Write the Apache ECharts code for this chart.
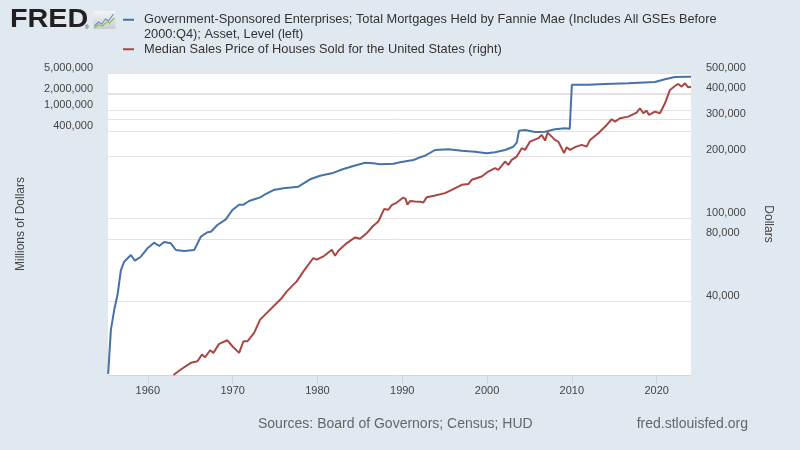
<!DOCTYPE html>
<html><head><meta charset="utf-8">
<script src="https://cdn.jsdelivr.net/npm/echarts@6/dist/echarts.min.js"></script>
<style>html,body{margin:0;padding:0;background:#e1e9f0}#c{width:800px;height:450px}</style>
</head><body><div id="c"></div>
<script>
// Government-Sponsored Enterprises; Total Mortgages Held by Fannie Mae (millions of dollars)
const fannieYears = [1955.32,1955.64,1956.03,1956.42,1956.82,1957.21,1958.0,1958.47,1959.17,1959.95,1960.74,1961.33,1961.92,1962.71,1963.30,1964.28,1965.46,1966.25,1967.03,1967.43,1968.20,1969.19,1969.97,1970.76,1971.27,1971.94,1972.92,1973.24,1973.71,1974.81,1975.98,1977.75,1979.13,1980.31,1981.69,1983.06,1984.24,1985.62,1986.59,1987.38,1988.95,1989.74,1991.31,1992.10,1992.69,1993.87,1995.44,1997.01,1998.58,1999.96,2000.94,2002.12,2003.10,2003.50,2003.77,2004.48,2005.66,2006.84,2008.01,2009.19,2009.75,2010.0,2011.94,2013.91,2016.66,2019.80,2020.98,2022.16,2023.73,2024.05];
const fannieValues = [10.5,71,168,323,957,1374,1837,1435,1706,2460,3141,2716,3236,3055,2286,2188,2286,4074,4932,5058,6776,8670,13000,16370,16370,19190,21580,22540,24940,30970,33340,35730,49320,57680,63970,77090,87900,101400,98850,94620,97300,103300,114000,128200,137400,176200,181600,171000,163700,152700,159600,176200,203200,242100,407400,419800,385500,390000,433500,451800,445000,3006000,3006000,3100000,3197000,3381000,3800000,4203000,4258000,4258000];
// Median Sales Price of Houses Sold for the United States (dollars)
const priceYears = [1963.02,1963.89,1965.07,1965.85,1966.37,1966.75,1967.34,1967.73,1968.40,1969.38,1969.97,1970.76,1971.27,1971.74,1972.53,1973.24,1973.71,1975.80,1976.39,1977.16,1977.56,1978.34,1979.52,1979.92,1980.70,1981.69,1982.08,1982.47,1983.46,1984.44,1985.03,1985.82,1986.59,1987.18,1987.86,1988.36,1988.76,1989.35,1990.13,1990.41,1990.60,1990.92,1991.51,1992.10,1992.49,1992.89,1993.87,1995.05,1995.84,1997.01,1997.79,1998.19,1999.37,2000.15,2000.94,2001.33,2002.12,2002.51,2002.91,2003.50,2004.09,2004.48,2005.07,2006.05,2006.45,2006.84,2007.15,2007.63,2008.01,2008.40,2008.80,2009.07,2009.39,2009.78,2010.37,2011.16,2011.75,2012.14,2013.12,2014.11,2014.70,2015.09,2015.68,2016.66,2017.64,2018.03,2018.42,2018.82,2019.10,2019.80,2020.39,2020.98,2021.57,2022.16,2022.55,2022.95,2023.34,2023.73,2024.05];
const priceValues = [17800,18910,20360,20720,22300,21650,23390,22730,25100,26120,24450,22730,25830,25830,28330,32810,34290,41690,44840,48280,50060,55890,64790,63590,65950,71000,66470,70220,76440,81330,80170,85370,92520,96990,111200,110400,116300,119600,126400,124200,116700,121500,120800,120600,119600,126900,129200,132700,137600,145400,146600,153700,159400,168400,174800,171500,188000,181300,191600,198700,217900,213900,234400,243400,252400,237000,258800,247600,238800,234400,217900,206300,220400,213900,220400,226100,221800,238800,257100,281800,300100,292300,303400,308800,322800,338800,320600,329900,314700,326300,320600,358000,414600,433200,442900,429900,446400,427000,429900];

const xTickYears = [1960,1970,1980,1990,2000,2010,2020];
const leftTicks = [400000,1000000,2000000,5000000];
const rightTicks = [40000,80000,100000,200000,300000,400000,500000];
const seriesNames = [
  'Government-Sponsored Enterprises; Total Mortgages Held by Fannie Mae (Includes All GSEs Before 2000:Q4); Asset, Level (left)',
  'Median Sales Price of Houses Sold for the United States (right)'
];
const legendLines = [
  ['Government-Sponsored Enterprises; Total Mortgages Held by Fannie Mae (Includes All GSEs Before', '2000:Q4); Asset, Level (left)'],
  ['Median Sales Price of Houses Sold for the United States (right)']
];
const seriesColors = ['#4572a7', '#aa4643'];
const axisNames = ['Millions of Dollars', 'Dollars'];
const sourceText = 'Sources: Board of Governors; Census; HUD';
const siteText = 'fred.stlouisfed.org';

const fmt = v => Number(v).toLocaleString('en-US');
const FONT = 'Liberation Sans, Arial, sans-serif';

const chart = echarts.init(document.getElementById('c'), null, {renderer: 'canvas'});
const legendText = {color: '#333', fontSize: 12.8, fontFamily: FONT, lineHeight: 14.5, padding: [0, 0, 0, 5]};
chart.setOption({
  backgroundColor: '#e1e9f0',
  animation: false,
  textStyle: {fontFamily: FONT},
  grid: {left: 108, right: 109, top: 73, bottom: 75, show: true, backgroundColor: '#ffffff', borderWidth: 0, containLabel: false},
  legend: [
    {data: [seriesNames[0]], left: 123, top: -2, orient: 'vertical', icon: 'rect', itemWidth: 11, itemHeight: 2, padding: 0,
     formatter: () => '\n' + legendLines[0].join('\n'), textStyle: legendText, selectedMode: false},
    {data: [seriesNames[1]], left: 123, top: 42, orient: 'vertical', icon: 'rect', itemWidth: 11, itemHeight: 2, padding: 0,
     formatter: () => legendLines[1].join('\n'), textStyle: legendText, selectedMode: false}
  ],
  xAxis: {
    type: 'value', min: 1955.3, max: 2024.05,
    axisLine: {show: true, lineStyle: {color: '#cfd6dd', width: 1}},
    axisTick: {show: true, customValues: xTickYears, length: 9, lineStyle: {color: '#cfd6dd'}},
    axisLabel: {customValues: xTickYears, formatter: v => String(v), color: '#444', fontSize: 11, margin: 10},
    splitLine: {show: false}
  },
  yAxis: [
    {
      type: 'log', logBase: 10, min: 10, max: 5000000, position: 'left',
      name: axisNames[0], nameLocation: 'middle', nameGap: 81, nameTextStyle: {color: '#444', fontSize: 12},
      axisLine: {show: false}, axisTick: {show: false, customValues: leftTicks},
      axisLabel: {customValues: leftTicks, formatter: fmt, color: '#444', fontSize: 11, margin: 15, verticalAlign: 'bottom'},
      splitLine: {show: true, lineStyle: {color: '#e2e2e2', width: 1}}
    },
    {
      type: 'log', logBase: 10, min: 17800, max: 500000, position: 'right',
      name: axisNames[1], nameLocation: 'middle', nameGap: 71, nameRotate: -90, nameTextStyle: {color: '#444', fontSize: 12},
      axisLine: {show: false}, axisTick: {show: false, customValues: rightTicks},
      axisLabel: {customValues: rightTicks, formatter: fmt, color: '#444', fontSize: 11, margin: 15, verticalAlign: 'bottom'},
      splitLine: {show: true, lineStyle: {color: '#e2e2e2', width: 1}}
    }
  ],
  series: [
    {name: seriesNames[0], type: 'line', yAxisIndex: 0, showSymbol: false, symbol: 'none',
     lineStyle: {color: seriesColors[0], width: 2}, itemStyle: {color: seriesColors[0]},
     data: fannieYears.map((y, i) => [y, fannieValues[i]])},
    {name: seriesNames[1], type: 'line', yAxisIndex: 1, showSymbol: false, symbol: 'none',
     lineStyle: {color: seriesColors[1], width: 2}, itemStyle: {color: seriesColors[1]},
     data: priceYears.map((y, i) => [y, priceValues[i]])}
  ],
  graphic: [
    {type: 'text', left: 10, top: 8, scaleX: 1.15, style: {text: 'FRED', fill: '#231f20', font: '900 25px ' + FONT}},
    {type: 'text', left: 85, top: 25, style: {text: '®', fill: '#231f20', font: '5px ' + FONT}},
    {type: 'group', left: 92, top: 11, children: [
      {type: 'rect', shape: {x: 0, y: 0, width: 22, height: 18}, style: {fill: new echarts.graphic.LinearGradient(0,0,0,1,[{offset:0,color:'#f4f5f7'},{offset:1,color:'#c9cdd3'}])}},
      {type: 'polyline', shape: {points: [[1,15],[5,11],[8,13],[12,8],[15,10],[20,3]]}, style: {stroke: '#6d8fc0', lineWidth: 1.2, fill: null}},
      {type: 'polyline', shape: {points: [[1,17],[5,14],[9,15],[13,11],[16,12],[21,7]]}, style: {stroke: '#8fbf5a', lineWidth: 1.2, fill: null}}
    ]},
    {type: 'text', left: 258, top: 417, style: {text: sourceText, fill: '#666', font: '14px ' + FONT}},
    {type: 'text', right: 52, top: 417, style: {text: siteText, fill: '#666', font: '14px ' + FONT}}
  ]
});
</script></body></html>
